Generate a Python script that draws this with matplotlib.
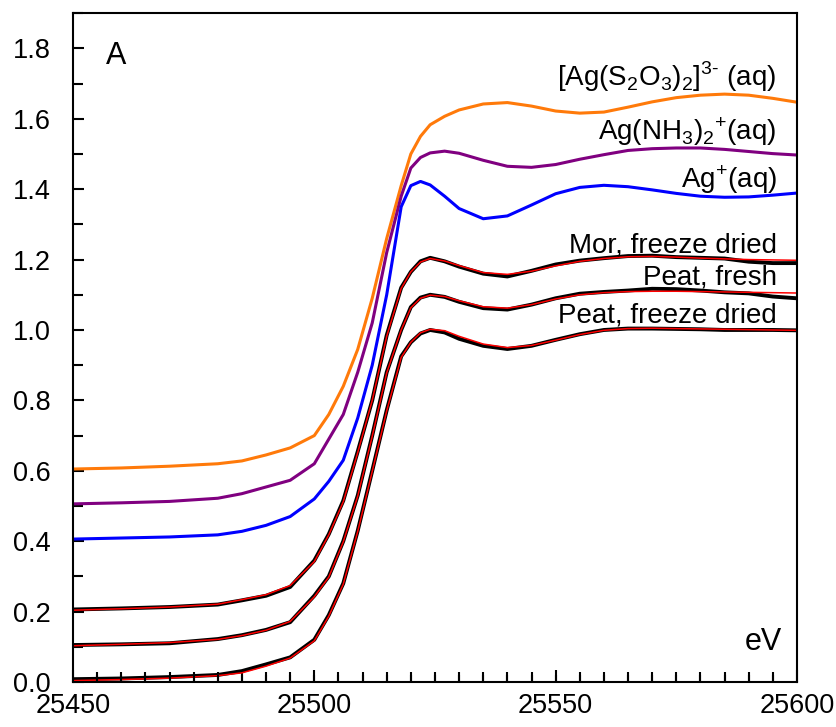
import matplotlib
matplotlib.use("Agg")
import matplotlib.pyplot as plt
from matplotlib.ticker import MultipleLocator, FormatStrFormatter

plt.rcParams["font.family"] = ["Liberation Sans", "DejaVu Sans"]
plt.rcParams["mathtext.fontset"] = "custom"
plt.rcParams["mathtext.rm"] = "Liberation Sans"

# Photon energy (eV)
energy = [25450, 25460, 25470, 25480, 25485, 25490, 25495, 25500, 25503, 25506,
          25509, 25512, 25515, 25518, 25520, 25522, 25524, 25527, 25530, 25535,
          25540, 25545, 25550, 25555, 25560, 25565, 25570, 25575, 25580, 25585,
          25590, 25595, 25600]

# Reference spectra (normalised, vertically offset)
ag_thiosulfate = [0.605, 0.608, 0.613, 0.620, 0.628, 0.645, 0.665, 0.700, 0.760, 0.840,
                  0.945, 1.090, 1.260, 1.410, 1.500, 1.550, 1.583, 1.607, 1.625, 1.642,
                  1.646, 1.636, 1.622, 1.616, 1.619, 1.633, 1.648, 1.660, 1.667, 1.670,
                  1.667, 1.658, 1.647]
ag_ammine = [0.506, 0.509, 0.513, 0.522, 0.535, 0.554, 0.573, 0.620, 0.690, 0.760,
             0.880, 1.020, 1.220, 1.380, 1.460, 1.490, 1.503, 1.508, 1.502, 1.482,
             1.465, 1.462, 1.470, 1.485, 1.498, 1.510, 1.515, 1.517, 1.517, 1.513,
             1.507, 1.501, 1.497]
ag_aqua = [0.406, 0.409, 0.412, 0.418, 0.428, 0.445, 0.470, 0.520, 0.570, 0.630,
           0.750, 0.900, 1.100, 1.350, 1.410, 1.422, 1.412, 1.380, 1.345, 1.316,
           1.324, 1.355, 1.387, 1.405, 1.411, 1.407, 1.398, 1.388, 1.380, 1.377,
           1.378, 1.383, 1.389]

# Soil samples: measured spectra and linear-combination fits
mor_fd = [0.206, 0.209, 0.213, 0.220, 0.232, 0.245, 0.270, 0.345, 0.420, 0.515,
          0.655, 0.800, 0.985, 1.120, 1.165, 1.195, 1.205, 1.195, 1.180, 1.160,
          1.152, 1.168, 1.186, 1.197, 1.204, 1.210, 1.211, 1.207, 1.205, 1.203,
          1.194, 1.190, 1.190]
mor_fd_fit = [0.204, 0.208, 0.213, 0.221, 0.234, 0.248, 0.274, 0.342, 0.418, 0.512,
              0.652, 0.800, 0.982, 1.118, 1.165, 1.193, 1.203, 1.196, 1.183, 1.163,
              1.158, 1.167, 1.182, 1.195, 1.203, 1.208, 1.209, 1.207, 1.204, 1.202,
              1.200, 1.199, 1.198]
peat_fresh = [0.105, 0.107, 0.110, 0.122, 0.133, 0.148, 0.170, 0.245, 0.300, 0.400,
              0.530, 0.700, 0.880, 1.000, 1.065, 1.092, 1.100, 1.094, 1.080, 1.062,
              1.058, 1.072, 1.090, 1.103, 1.108, 1.112, 1.117, 1.116, 1.112, 1.107,
              1.104, 1.095, 1.090]
peat_fresh_fit = [0.103, 0.107, 0.112, 0.121, 0.132, 0.147, 0.172, 0.242, 0.298, 0.398,
                  0.528, 0.698, 0.878, 1.000, 1.063, 1.090, 1.099, 1.095, 1.083, 1.066,
                  1.062, 1.072, 1.088, 1.100, 1.106, 1.109, 1.110, 1.110, 1.109, 1.108,
                  1.107, 1.106, 1.105]
peat_fd = [0.008, 0.010, 0.014, 0.020, 0.031, 0.050, 0.070, 0.120, 0.190, 0.280,
           0.430, 0.600, 0.772, 0.925, 0.965, 0.990, 1.000, 0.993, 0.975, 0.955,
           0.946, 0.955, 0.972, 0.988, 1.000, 1.004, 1.004, 1.003, 1.002, 1.000,
           1.000, 1.000, 0.999]
peat_fd_fit = [0.004, 0.007, 0.011, 0.018, 0.026, 0.045, 0.068, 0.117, 0.187, 0.278,
               0.428, 0.598, 0.770, 0.922, 0.965, 0.992, 1.002, 0.998, 0.982, 0.960,
               0.950, 0.956, 0.971, 0.987, 0.999, 1.004, 1.005, 1.004, 1.003, 1.002,
               1.001, 1.000, 0.999]

x_major = [25450, 25500, 25550, 25600]
x_minor = [e for e in range(25455, 25600, 5) if e % 50]

fig = plt.figure(figsize=(8.36, 7.27), dpi=100)
ax = fig.add_axes([0.0873, 0.0619, 0.866, 0.920])

style = dict(solid_capstyle="round", solid_joinstyle="round")
ax.plot(energy, ag_thiosulfate, color="#FF7A0A", lw=2.2, **style)
ax.plot(energy, ag_ammine, color="#800080", lw=2.2, **style)
ax.plot(energy, ag_aqua, color="#0000FF", lw=2.2, **style)

for meas, fit in [(mor_fd, mor_fd_fit), (peat_fresh, peat_fresh_fit), (peat_fd, peat_fd_fit)]:
    ax.plot(energy, meas, color="black", lw=2.8, **style)
    ax.plot(energy, fit, color="#FF0000", lw=1.1, **style)

ax.set_xlim(25450, 25600)
ax.set_ylim(0, 1.9)
ax.set_xticks(x_major)
ax.set_xticks(x_minor, minor=True)
ax.yaxis.set_major_locator(MultipleLocator(0.2))
ax.yaxis.set_minor_locator(MultipleLocator(0.1))
ax.yaxis.set_major_formatter(FormatStrFormatter("%.1f"))

ax.tick_params(axis="x", which="both", direction="in", width=1.5, color="black",
               bottom=True, top=False, labelsize=19.5)
ax.tick_params(axis="x", which="major", length=9, pad=8)
ax.tick_params(axis="x", which="minor", length=7)
ax.tick_params(axis="y", which="both", direction="in", width=1.5, color="black",
               left=True, right=False, labelsize=19.5)
ax.tick_params(axis="y", which="major", length=8, pad=16)
ax.tick_params(axis="y", which="minor", length=7)
for s in ax.spines.values():
    s.set_linewidth(1.5)

# inward tick marks along the energy axis, kept on top of the spectra
tick_frac = 7 / (0.920 * 727)
ax.vlines(x_minor + x_major[1:-1], 0, tick_frac, transform=ax.get_xaxis_transform(),
          colors="black", linewidth=1.5, zorder=5, clip_on=False)

fs = 20
lx = 25595.8
ax.text(lx, 1.693, r"[Ag(S$_2$O$_3$)$_2$]$^{3\text{-}}$ (aq)", ha="right", va="baseline", fontsize=fs)
ax.text(lx, 1.539, r"Ag(NH$_3$)$_2$$^{+}$(aq)", ha="right", va="baseline", fontsize=fs)
ax.text(lx, 1.403, r"Ag$^{+}$(aq)", ha="right", va="baseline", fontsize=fs)
ax.text(lx, 1.221, "Mor, freeze dried", ha="right", va="baseline", fontsize=fs)
ax.text(lx, 1.128, "Peat, fresh", ha="right", va="baseline", fontsize=fs)
ax.text(lx, 1.022, "Peat, freeze dried", ha="right", va="baseline", fontsize=fs)
ax.text(25456.8, 1.755, "A", ha="left", va="baseline", fontsize=22)
ax.text(25596.9, 0.091, "eV", ha="right", va="baseline", fontsize=22)

fig.savefig("out.png", dpi=100)
